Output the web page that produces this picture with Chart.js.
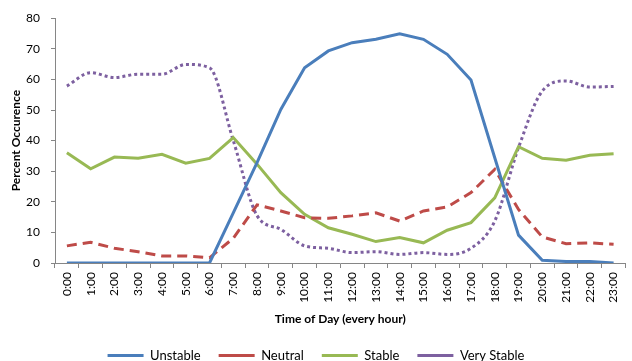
<!DOCTYPE html>
<html><head><meta charset="utf-8">
<script src="https://cdn.jsdelivr.net/npm/chart.js@4.4.1/dist/chart.umd.min.js"></script>
<style>html,body{margin:0;padding:0;background:#fff}canvas{display:block}</style>
</head><body>
<canvas id="c" width="632" height="361"></canvas>
<script>
const hours = ['0:00','1:00','2:00','3:00','4:00','5:00','6:00','7:00','8:00','9:00','10:00','11:00',
  '12:00','13:00','14:00','15:00','16:00','17:00','18:00','19:00','20:00','21:00','22:00','23:00'];
const unstable = [0,0,0,0,0,0,0,16.4,32.8,50.2,63.8,69.3,72,73.1,74.9,73.1,68.2,59.8,34.4,9.1,0.9,0.5,0.5,0];
const neutral = [5.6,6.8,4.8,3.7,2.3,2.3,1.7,8.1,19,17,14.8,14.6,15.4,16.4,13.7,17,18.3,23,30.6,17.5,8.5,6.3,6.6,6.1];
const stable = [36,30.8,34.6,34.2,35.5,32.6,34.2,41,32.3,23,15.9,11.5,9.4,7,8.3,6.6,10.7,13.2,21.3,38,34.2,33.6,35.2,35.7];
const veryStable = [57.8,62.2,60.6,61.7,61.7,64.9,63.8,40,15.5,11,5.6,4.8,3.4,3.7,2.8,3.4,2.8,4.8,13.7,37.7,56.2,59.5,57.5,57.7];
const yTicks = [0,10,20,30,40,50,60,70,80];

const axisColor = '#868686';
const fontFam = 'Lato';

new Chart(document.getElementById('c'), {
  type: 'line',
  data: {
    labels: hours,
    datasets: [
      {label:'Unstable', data: unstable, borderColor:'#4A7EBB', backgroundColor:'#4A7EBB', borderWidth:3, pointRadius:0, tension:0, borderCapStyle:'butt'},
      {label:'Neutral', data: neutral, borderColor:'#BE4B48', backgroundColor:'#BE4B48', borderWidth:3, pointRadius:0, tension:0, borderDash:[10,6], borderCapStyle:'butt'},
      {label:'Stable', data: stable, borderColor:'#98B954', backgroundColor:'#98B954', borderWidth:3, pointRadius:0, tension:0, borderCapStyle:'butt'},
      {label:'Very Stable', data: veryStable, borderColor:'#7D60A0', backgroundColor:'#7D60A0', borderWidth:3, pointRadius:0, cubicInterpolationMode:'monotone', borderDash:[3,3], borderCapStyle:'butt'}
    ]
  },
  options: {
    responsive: false,
    animation: false,
    devicePixelRatio: 1,
    layout: { padding: { top: 17, right: 0, left: 0, bottom: -11 } },
    plugins: {
      legend: {
        position: 'bottom',
        labels: {
          usePointStyle: true, pointStyle: 'line', pointStyleWidth: 36, padding: 18,
          color: '#000', font: { family: fontFam, size: 13 }
        }
      },
      tooltip: { enabled: false }
    },
    scales: {
      x: {
        offset: true,
        grid: { offset: true, drawOnChartArea: false, drawTicks: true, tickLength: 5, color: axisColor },
        border: { color: axisColor, width: 1 },
        ticks: { autoSkip: false, minRotation: 90, maxRotation: 90, padding: 4, color: '#000', font: { family: fontFam, size: 12 } },
        title: { display: true, text: 'Time of Day (every hour)', color: '#000', font: { family: fontFam, size: 12, weight: 'bold' }, padding: { top: 0, bottom: 5 } },
        afterFit(s) { s.height = 68; }
      },
      y: {
        min: 0, max: 80,
        afterBuildTicks(s) { s.ticks = yTicks.map(v => ({ value: v })); },
        grid: { drawOnChartArea: false, drawTicks: true, tickLength: 4, color: axisColor },
        border: { color: axisColor, width: 1 },
        ticks: { padding: 11, color: '#000', font: { family: fontFam, size: 12 } },
        title: { display: true, text: 'Percent Occurence', color: '#000', font: { family: fontFam, size: 12, weight: 'bold' }, padding: { top: 9, bottom: 0 } },
        afterFit(s) { s.width = 55; }
      }
    }
  }
});
</script>
</body></html>
